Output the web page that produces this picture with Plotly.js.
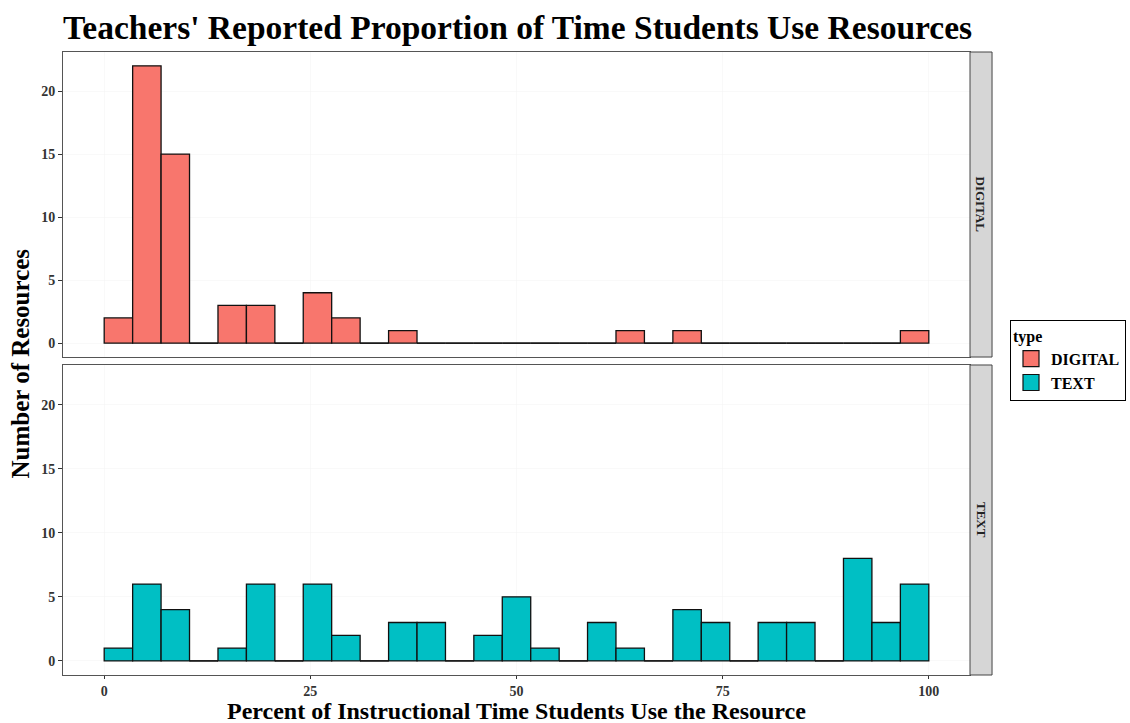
<!DOCTYPE html>
<html>
<head>
<meta charset="utf-8">
<script src="https://cdn.plot.ly/plotly-3.0.1.min.js"></script>
<style>html,body{margin:0;padding:0;background:#fff;}#chart{width:1130px;height:723px;}</style>
</head>
<body>
<div id="chart"></div>
<script>
// Histogram bins (29 bins over 0-100, width 100/29)
const binMid = [1.72, 5.17, 8.62, 12.07, 15.52, 18.97, 22.41, 25.86, 29.31, 32.76, 36.21, 39.66, 43.10, 46.55, 50.00,
                53.45, 56.90, 60.34, 63.79, 67.24, 70.69, 74.14, 77.59, 81.03, 84.48, 87.93, 91.38, 94.83, 98.28];
const binWidth = 3.448;
const digitalCounts = [2, 22, 15, 0, 3, 3, 0, 4, 2, 0, 1, 0, 0, 0, 0, 0, 0, 0, 1, 0, 1, 0, 0, 0, 0, 0, 0, 0, 1];
const textCounts    = [1, 6, 4, 0, 1, 6, 0, 6, 2, 0, 3, 3, 0, 2, 5, 1, 0, 3, 1, 0, 4, 3, 0, 3, 3, 0, 8, 3, 6];
const panels = ['DIGITAL', 'TEXT'];
const colors = {DIGITAL: '#F8766D', TEXT: '#00BFC4'};
const xTicks = [0, 25, 50, 75, 100];
const yTicks = [0, 5, 10, 15, 20];

const serif = 'Liberation Serif, Times New Roman, serif';

function zeroSegments(counts) {
  const xs = [], ys = [];
  counts.forEach((c, i) => {
    if (c === 0) {
      xs.push(binMid[i] - binWidth / 2, binMid[i] + binWidth / 2, null);
      ys.push(0, 0, null);
    }
  });
  return {xs, ys};
}

const traces = [];
const series = {DIGITAL: digitalCounts, TEXT: textCounts};
const axes = {DIGITAL: ['x2', 'y2'], TEXT: ['x', 'y']};
panels.forEach(p => {
  traces.push({
    type: 'bar', name: p, x: binMid, y: series[p], width: binWidth,
    xaxis: axes[p][0], yaxis: axes[p][1],
    marker: {color: colors[p], line: {color: '#111', width: 1.3}},
    showlegend: false, hoverinfo: 'x+y'
  });
  const z = zeroSegments(series[p]);
  traces.push({
    type: 'scatter', mode: 'lines', x: z.xs, y: z.ys,
    xaxis: axes[p][0], yaxis: axes[p][1],
    line: {color: '#111', width: 1.3}, showlegend: false, hoverinfo: 'skip'
  });
});
// legend keys
panels.forEach(p => {
  traces.push({
    type: 'scatter', mode: 'markers', name: p, x: [null], y: [null],
    marker: {symbol: 'square', size: 20, color: colors[p], line: {color: '#111', width: 1.2}},
    showlegend: true, hoverinfo: 'skip'
  });
});

const topDom = [0.5104, 1];
const botDom = [0, 0.4976];
const yCommon = {
  range: [-1.1, 23.1], tickvals: yTicks, ticks: 'outside', ticklen: 4, tickcolor: '#333',
  tickfont: {family: serif, size: 14, color: '#333', weight: 'bold'},
  showgrid: true, gridcolor: '#F4F4F4', gridwidth: 0.5, zeroline: false,
  showline: true, mirror: true, linecolor: '#555', linewidth: 1
};
const xCommon = {
  range: [-5, 105], tickvals: xTicks, showgrid: true, gridcolor: '#F4F4F4', gridwidth: 0.5,
  zeroline: false, showline: true, mirror: true, linecolor: '#555', linewidth: 1
};

const layout = {
  width: 1130, height: 723,
  margin: {l: 63, r: 160, t: 52, b: 48, autoexpand: false},
  paper_bgcolor: '#fff', plot_bgcolor: '#fff',
  barmode: 'overlay', bargap: 0,
  title: {text: "Teachers' Reported Proportion of Time Students Use Resources",
          font: {family: serif, size: 33.5, color: '#000', weight: 'bold'},
          x: 0, xanchor: 'left', xref: 'paper', y: 0.962, yanchor: 'middle'},
  xaxis: Object.assign({}, xCommon, {
    anchor: 'y', domain: [0, 1], ticks: 'outside', ticklen: 3, tickcolor: '#333',
    tickfont: {family: serif, size: 14, color: '#333', weight: 'bold'}
  }),
  xaxis2: Object.assign({}, xCommon, {anchor: 'y2', domain: [0, 1], showticklabels: false, ticks: '', matches: 'x'}),
  yaxis: Object.assign({}, yCommon, {domain: botDom, anchor: 'x'}),
  yaxis2: Object.assign({}, yCommon, {domain: topDom, anchor: 'x2'}),
  legend: {
    x: 1.0441, xanchor: 'left', y: 0.5698, yanchor: 'top',
    bordercolor: '#000', borderwidth: 1, bgcolor: '#fff',
    title: {text: 'type', font: {family: serif, size: 16, color: '#000', weight: 'bold'}},
    font: {family: serif, size: 16, color: '#000', weight: 'bold'},
    tracegroupgap: 0, itemwidth: 30
  },
  shapes: [
    {type: 'rect', xref: 'paper', yref: 'paper', x0: 1.0, x1: 1.0243, y0: topDom[0], y1: topDom[1],
     fillcolor: '#D6D6D6', line: {color: '#444', width: 1}},
    {type: 'rect', xref: 'paper', yref: 'paper', x0: 1.0, x1: 1.0243, y0: botDom[0], y1: botDom[1],
     fillcolor: '#D6D6D6', line: {color: '#444', width: 1}}
  ],
  annotations: [
    {text: 'DIGITAL', xref: 'paper', yref: 'paper', x: 1.0121, y: (topDom[0] + topDom[1]) / 2,
     xanchor: 'center', yanchor: 'middle',
     showarrow: false, textangle: 90, font: {family: serif, size: 13, color: '#222', weight: 'bold'}},
    {text: 'TEXT', xref: 'paper', yref: 'paper', x: 1.0121, y: (botDom[0] + botDom[1]) / 2,
     xanchor: 'center', yanchor: 'middle',
     showarrow: false, textangle: 90, font: {family: serif, size: 13, color: '#222', weight: 'bold'}},
    {text: 'Number of Resources', xref: 'paper', yref: 'paper', x: -0.0474, y: 0.5, xanchor: 'center',
     yanchor: 'middle', showarrow: false, textangle: -90,
     font: {family: serif, size: 25, color: '#000', weight: 'bold'}},
    {text: 'Percent of Instructional Time Students Use the Resource', xref: 'paper', yref: 'paper',
     x: 0.5, y: -0.0578, xanchor: 'center', yanchor: 'middle', showarrow: false,
     font: {family: serif, size: 24, color: '#000', weight: 'bold'}}
  ]
};

Plotly.newPlot('chart', traces, layout, {displayModeBar: false, staticPlot: true});
</script>
</body>
</html>
